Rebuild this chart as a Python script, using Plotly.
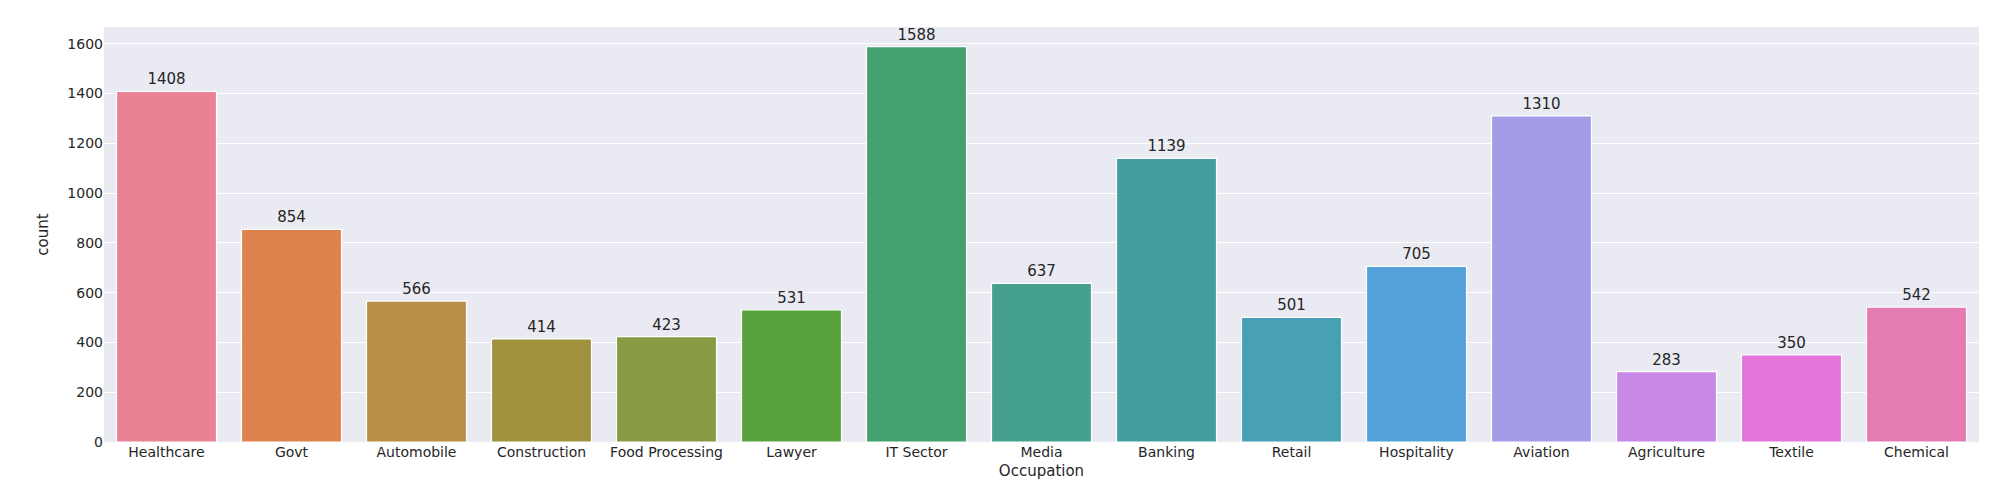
import plotly.graph_objects as go

occupations = ["Healthcare", "Govt", "Automobile", "Construction", "Food Processing",
               "Lawyer", "IT Sector", "Media", "Banking", "Retail", "Hospitality",
               "Aviation", "Agriculture", "Textile", "Chemical"]
counts = [1408, 854, 566, 414, 423, 531, 1588, 637, 1139, 501, 705, 1310, 283, 350, 542]
colors = ["#e88396", "#dd814d", "#b88f46", "#a1923f", "#889a42", "#58a33e",
          "#43a06f", "#45a08d", "#449e9e", "#47a0b4", "#53a1d8", "#a39de8",
          "#c889e6", "#e274da", "#e47cb3"]

fig = go.Figure(go.Bar(
    x=occupations, y=counts,
    marker_color=colors,
    marker_line_color="white", marker_line_width=1.2,
    width=0.8,
    text=counts, textposition="outside",
    textfont=dict(size=15, color="#262626"),
    cliponaxis=False,
))

fig.update_layout(
    width=2000, height=500,
    margin=dict(l=96, r=29, t=19, b=66),
    plot_bgcolor="#eaeaf2", paper_bgcolor="white",
    font=dict(family="DejaVu Sans, Arial", size=14, color="#262626"),
    bargap=0.2, showlegend=False,
)
fig.update_xaxes(title=dict(text="Occupation", font_size=15, standoff=6),
                 showgrid=False, ticks="", range=[-0.5, 14.5])
fig.update_yaxes(title=dict(text="count", font_size=15), range=[0, 1667],
                 dtick=200, gridcolor="white", gridwidth=1.2, zeroline=False,
                 ticks="")

fig.write_html("out.html")
